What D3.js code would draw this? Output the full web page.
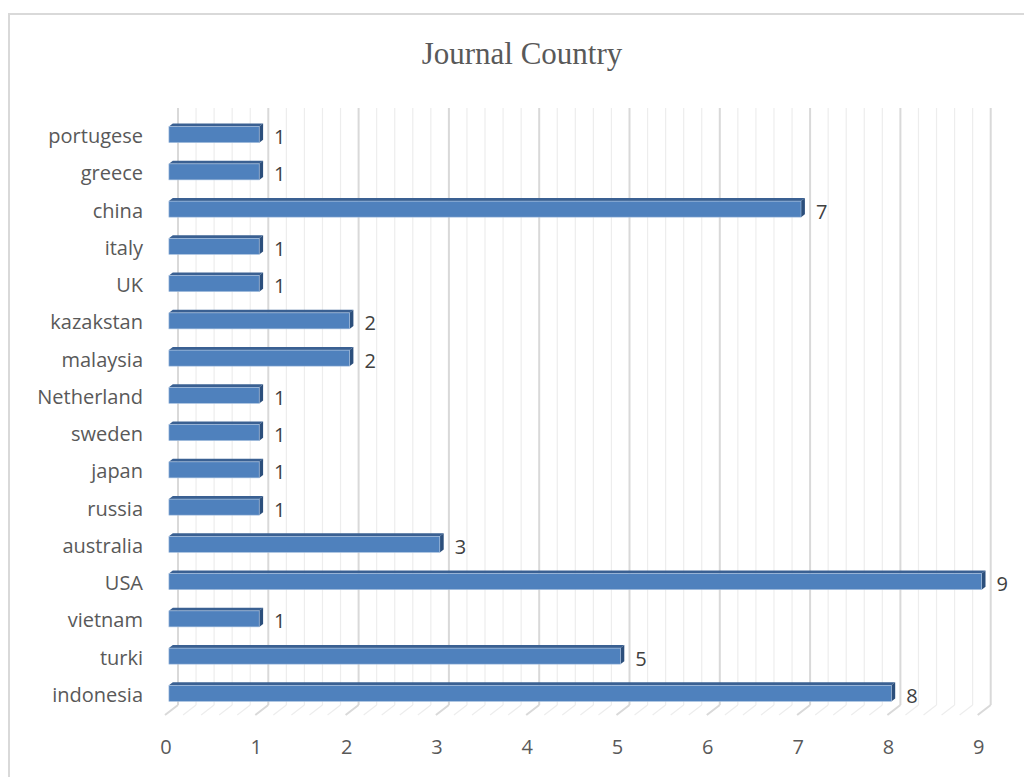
<!DOCTYPE html>
<html>
<head>
<meta charset="utf-8">
<script src="https://cdn.jsdelivr.net/npm/d3@7"></script>
<style>
  body { margin: 0; background: #fff; }
  svg { display: block; }
</style>
</head>
<body>
<div id="graph"></div>
<script>
// data, top to bottom as shown
var countries = ["portugese", "greece", "china", "italy", "UK", "kazakstan", "malaysia",
  "Netherland", "sweden", "japan", "russia", "australia", "USA", "vietnam", "turki", "indonesia"];
var counts = [1, 1, 7, 1, 1, 2, 2, 1, 1, 1, 1, 3, 9, 1, 5, 8];
var ticks = [0, 1, 2, 3, 4, 5, 6, 7, 8, 9];

var width = 1024, height = 777;
var depthX = 13, depthY = -10;   // oblique offset from floor front edge to back wall
var barFront = 0.3, barBack = 0.6; // where the bar sits in the depth

var svg = d3.select("#graph").append("svg")
  .attr("width", width)
  .attr("height", height);

// chart border (runs off the right / bottom of the picture)
svg.append("rect")
  .attr("x", 9).attr("y", 14)
  .attr("width", 1030).attr("height", 800)
  .attr("fill", "none")
  .attr("stroke", "#d9d9d9")
  .attr("stroke-width", 2);

svg.append("text")
  .attr("x", 522).attr("y", 64)
  .attr("text-anchor", "middle")
  .attr("font-family", "Liberation Serif, serif")
  .attr("font-size", 31)
  .attr("fill", "#595959")
  .text("Journal Country");

// x on the front edge of the floor
var x = d3.scaleLinear().domain([0, 9]).range([165, 165 + 9 * 90.3]);
var y = d3.scaleBand().domain(countries).range([116, 712])
  .paddingInner(0.57).paddingOuter(0.285);

var floorY = 715, wallTop = 108;

// gridlines: minor every 0.2, major every 1
var grid = d3.range(0, 9.001, 0.2).map(function(v) { return Math.round(v * 10) / 10; });
var g = svg.append("g");
grid.forEach(function(v) {
  var major = Math.abs(v - Math.round(v)) < 1e-6;
  var col = major ? "#d9d9d9" : "#ededed";
  var sw = major ? 2 : 1.2;
  // back wall
  g.append("line")
    .attr("x1", x(v) + depthX).attr("x2", x(v) + depthX)
    .attr("y1", wallTop).attr("y2", floorY + depthY)
    .attr("stroke", col).attr("stroke-width", sw);
  // floor
  g.append("line")
    .attr("x1", x(v)).attr("y1", floorY)
    .attr("x2", x(v) + depthX).attr("y2", floorY + depthY)
    .attr("stroke", col).attr("stroke-width", sw);
});

// 3D bars
var fx = barFront * depthX, fy = barFront * depthY;
var dx = (barBack - barFront) * depthX, dy = (barBack - barFront) * depthY;
var bars = svg.append("g").selectAll("g")
  .data(countries)
  .enter().append("g");

bars.each(function(c, i) {
  var el = d3.select(this);
  var x0 = x(0) + fx, x1 = x(counts[i]) + fx;
  var y0 = y(c), h = y.bandwidth();
  // top face
  el.append("path")
    .attr("d", "M" + x0 + "," + y0 + "L" + (x0 + dx) + "," + (y0 + dy) +
      "L" + (x1 + dx) + "," + (y0 + dy) + "L" + x1 + "," + y0 + "Z")
    .attr("fill", "#3a6092");
  // end face
  el.append("path")
    .attr("d", "M" + x1 + "," + y0 + "L" + (x1 + dx) + "," + (y0 + dy) +
      "L" + (x1 + dx) + "," + (y0 + dy + h) + "L" + x1 + "," + (y0 + h) + "Z")
    .attr("fill", "#2c4f7c");
  // front face
  el.append("rect")
    .attr("x", x0).attr("y", y0)
    .attr("width", x1 - x0).attr("height", h)
    .attr("fill", "#4f81bd")
    .attr("stroke", "#a9c2e0").attr("stroke-width", 0.6);
  // value label
  el.append("text")
    .attr("x", x1 + dx + 11)
    .attr("y", y0 + h / 2 + 2)
    .attr("dominant-baseline", "central")
    .attr("font-family", "Open Sans, sans-serif")
    .attr("font-size", 20)
    .attr("fill", "#404040")
    .text(counts[i]);
});

// category labels
svg.append("g").selectAll("text")
  .data(countries)
  .enter().append("text")
  .attr("x", 143)
  .attr("y", function(d) { return y(d) + y.bandwidth() / 2 + 1; })
  .attr("dominant-baseline", "central")
  .attr("text-anchor", "end")
  .attr("font-family", "Open Sans, sans-serif")
  .attr("font-size", 20)
  .attr("fill", "#595959")
  .text(function(d) { return d; });

// value axis labels
svg.append("g").selectAll("text")
  .data(ticks)
  .enter().append("text")
  .attr("x", function(d) { return x(d) + 1; })
  .attr("y", 746)
  .attr("dominant-baseline", "central")
  .attr("text-anchor", "middle")
  .attr("font-family", "Open Sans, sans-serif")
  .attr("font-size", 20)
  .attr("fill", "#595959")
  .text(function(d) { return d; });
</script>
</body>
</html>
